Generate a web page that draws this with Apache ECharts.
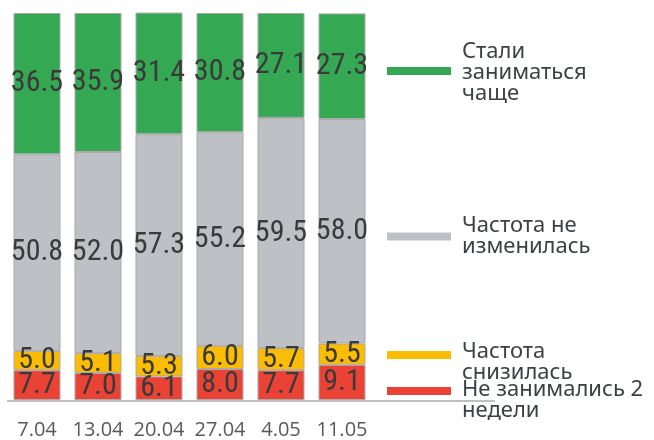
<!DOCTYPE html>
<html>
<head>
<meta charset="utf-8">
<script src="https://cdn.jsdelivr.net/npm/echarts@6/dist/echarts.min.js"></script>
<style>
  html, body { margin: 0; padding: 0; background: #fff; }
  #chart { width: 654px; height: 440px; }
</style>
</head>
<body>
<div id="chart"></div>
<script>
const weeks = ["7.04", "13.04", "20.04", "27.04", "4.05", "11.05"];

const seriesNames = [
  "Не занимались 2 недели",
  "Частота снизилась",
  "Частота не изменилась",
  "Стали заниматься чаще",
];
const legendLabels = [
  "Не занимались 2\nнедели",
  "Частота\nснизилась",
  "Частота не\nизменилась",
  "Стали\nзаниматься\nчаще",
];

const stopped = [7.7, 7.0, 6.1, 8.0, 7.7, 9.1];
const less = [5.0, 5.1, 5.3, 6.0, 5.7, 5.5];
const same = [50.8, 52.0, 57.3, 55.2, 59.5, 58.0];
const more = [36.5, 35.9, 31.4, 30.8, 27.1, 27.3];

const colors = ["#EA4335", "#FBBC04", "#BDC1C6", "#34A853"];

const labelFont = "'Liberation Sans Narrow', 'Roboto Condensed', 'DejaVu Sans Condensed', sans-serif";

let myChart = echarts.init(document.getElementById("chart"));

// legend blocks sit next to the bars, one per series;
// a blank rich line before the text nudges it below the marker
const legendPos = [
  { top: 361, gapTop: 18 },
  { top: 327, gapTop: 14 },
  { top: 215, gapTop: 0 },
  { top: 37.5, gapTop: 4 },
];

const legends = seriesNames.map((name, i) => {
  const pos = legendPos[i];
  return {
    data: [name],
    left: 387,
    top: pos.top,
    padding: 0,
    icon: "rect",
    itemWidth: 64,
    itemHeight: 8,
    itemGap: 0,
    selectedMode: false,
    itemStyle: { borderWidth: 0 },
    formatter: () => {
      let txt = legendLabels[i];
      if (pos.gapTop) txt = "{gapTop| }\n" + txt;
      return txt;
    },
    textStyle: {
      fontFamily: "'Noto Sans', sans-serif",
      fontSize: 22,
      lineHeight: 21,
      color: "#3c4043",
      padding: [0, 0, 0, 6],
      rich: {
        gapTop: { fontSize: 1, lineHeight: pos.gapTop || 1 },
      },
    },
  };
});

const values = [stopped, less, same, more];

myChart.setOption({
  animation: false,
  color: colors,
  legend: legends,
  grid: { left: 6.5, right: 281.5, top: 13, bottom: 39 },
  xAxis: {
    type: "category",
    data: weeks,
    axisLine: { show: false },
    axisTick: { show: false },
    axisLabel: {
      interval: 0,
      margin: 20,
      fontFamily: "'Open Sans', sans-serif",
      fontSize: 20,
      color: "#595959",
    },
  },
  yAxis: {
    type: "value",
    min: 0,
    max: 100,
    show: false,
  },
  graphic: [
    {
      type: "line",
      shape: { x1: 7, y1: 401, x2: 495, y2: 401 },
      style: { stroke: "#c0c0c0", lineWidth: 2 },
    },
  ],
  series: values.map((data, i) => ({
    name: seriesNames[i],
    type: "bar",
    stack: "total",
    barCategoryGap: "23%",
    data: data,
    itemStyle: { borderColor: "#a9a9a9", borderWidth: 1 },
    label: {
      show: true,
      position: "inside",
      formatter: (p) => p.value.toFixed(1),
      fontFamily: labelFont,
      fontSize: 30,
      color: "#3a3a3a",
    },
  })),
});
</script>
</body>
</html>
